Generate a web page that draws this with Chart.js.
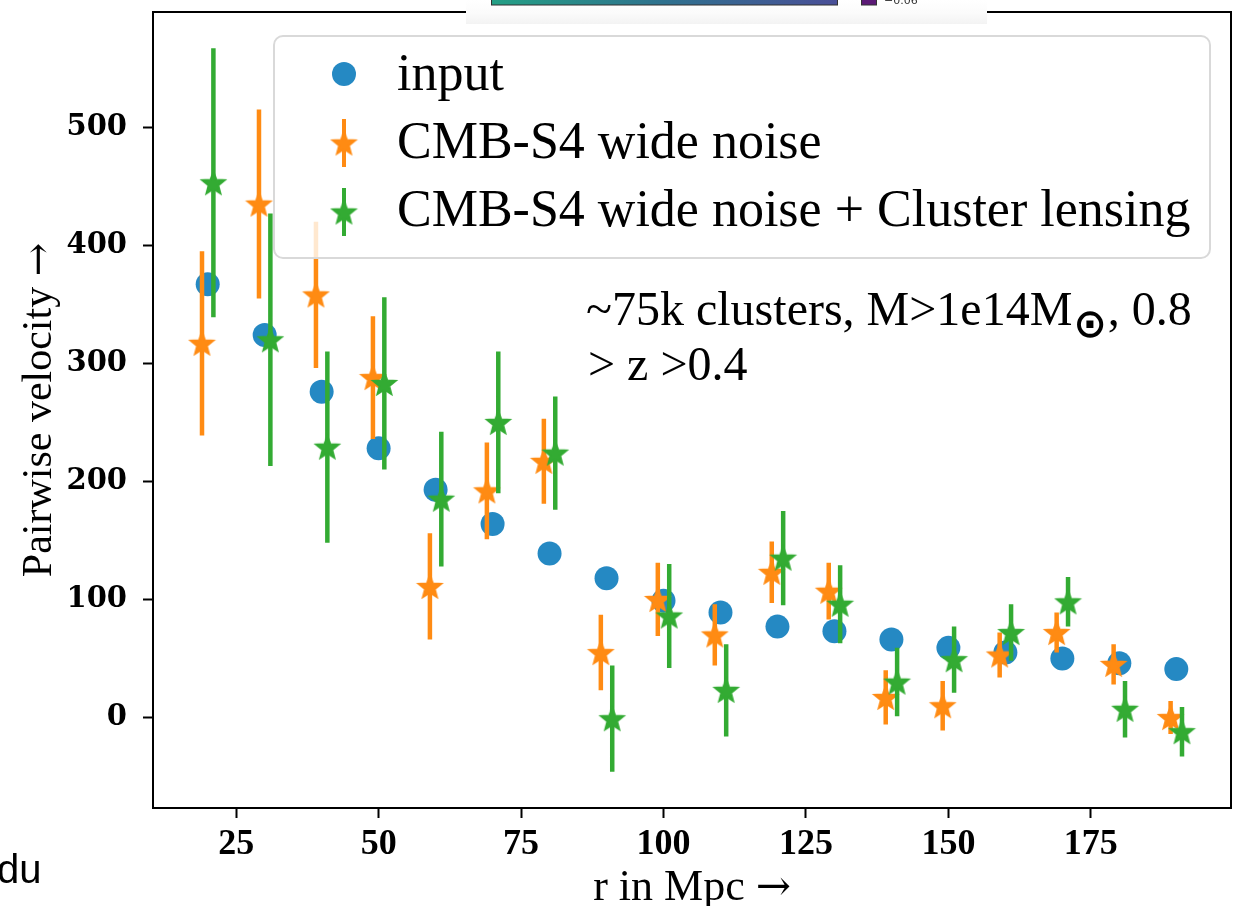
<!DOCTYPE html>
<html>
<head>
<meta charset="utf-8">
<script src="https://cdn.jsdelivr.net/npm/chart.js@4.4.0/dist/chart.umd.min.js"></script>
<style>
  html, body { margin: 0; padding: 0; background: #fff; }
  #wrap { position: relative; width: 1243px; height: 906px; }
</style>
</head>
<body>
<div id="wrap"><canvas id="pairwiseChart"></canvas></div>
<script>
// Separation bins in Mpc (the noisy series are nudged left/right by 1 Mpc)
const rInput   = [20, 30, 40, 50, 60, 70, 80, 90, 100, 110, 120, 130, 140, 150, 160, 170, 180, 190];
const rWide    = [19, 29, 39, 49, 59, 69, 79, 89, 99, 109, 119, 129, 139, 149, 159, 169, 179, 189];
const rLensing = [21, 31, 41, 51, 61, 71, 81, 91, 101, 111, 121, 131, 141, 151, 161, 171, 181, 191];

// Pairwise velocity per bin
const vInput   = [367, 324, 276, 228, 193, 164, 139, 118, 99, 89, 77, 73, 66, 59, 55, 50, 46, 41];
const vWide    = [317, 435, 358, 288, 111, 192, 217, 55, 100, 70, 123, 107, 17, 10, 53, 72, 45, 0];
const errWide  = [78, 80, 62, 52, 45, 41, 36, 32, 31, 26, 26, 24, 23, 21, 19, 17, 17, 14];
const vLensing = [453, 320, 229, 283, 185, 250, 224, -1, 86, 23, 135, 96, 30, 49, 72, 98, 7, -12];
const errLensing = [114, 107, 81, 73, 57, 60, 48, 45, 44, 39, 40, 33, 29, 28, 24, 21, 24, 21];

const xTicks = [25, 50, 75, 100, 125, 150, 175];
const yTicks = [0, 100, 200, 300, 400, 500];
const seriesNames = ['input', 'CMB-S4 wide noise', 'CMB-S4 wide noise + Cluster lensing'];
const xTitle = 'r in Mpc ';
const yTitle = 'Pairwise velocity ';

const BLUE = '#2589c3';
const ORANGE = '#ff8b13';
const GREEN = '#33ab33';

const SERIF = '"Liberation Serif", "Times New Roman", serif';
const ARROW_FONT = '"DejaVu Serif", serif';

// axis limits with a 5% margin around the data, like matplotlib does
function padded(lo, hi) {
    const m = (hi - lo) * 0.05;
    return [lo - m, hi + m];
}
const [xMin, xMax] = padded(Math.min(...rWide), Math.max(...rLensing));
const allLow = vWide.map((v, i) => v - errWide[i]).concat(vLensing.map((v, i) => v - errLensing[i]), vInput);
const allHigh = vWide.map((v, i) => v + errWide[i]).concat(vLensing.map((v, i) => v + errLensing[i]), vInput);
const [yMin, yMax] = padded(Math.min(...allLow), Math.max(...allHigh));

// filled five-point star marker
function starMarker(color, R) {
    const size = Math.ceil(R * 2 + 4);
    const c = document.createElement('canvas');
    c.width = size;
    c.height = size;
    const g = c.getContext('2d');
    const cx = size / 2, cy = size / 2 + R * 0.08;
    const r = R * 0.43;
    g.beginPath();
    for (let i = 0; i < 10; i++) {
        const rad = i % 2 ? r : R;
        const a = -Math.PI / 2 + i * Math.PI / 5;
        g.lineTo(cx + rad * Math.cos(a), cy + rad * Math.sin(a));
    }
    g.closePath();
    g.fillStyle = color;
    g.fill();
    g.lineJoin = 'miter';
    g.lineWidth = 1.5;
    g.strokeStyle = color;
    g.stroke();
    return c;
}

const orangeStar = starMarker(ORANGE, 12.5);
const greenStar = starMarker(GREEN, 12.5);

function points(xs, ys) {
    return xs.map((x, i) => ({ x: x, y: ys[i] }));
}

// vertical error bars, drawn just under each dataset's markers
const errorBars = {
    id: 'errorBars',
    beforeDatasetDraw(chart, args) {
        const ds = chart.data.datasets[args.index];
        if (!ds.errors) return;
        const { ctx, chartArea: a, scales: { x, y } } = chart;
        ctx.save();
        ctx.beginPath();
        ctx.rect(a.left, a.top, a.right - a.left, a.bottom - a.top);
        ctx.clip();
        ctx.beginPath();
        ds.data.forEach((p, i) => {
            const px = x.getPixelForValue(p.x);
            ctx.moveTo(px, y.getPixelForValue(p.y - ds.errors[i]));
            ctx.lineTo(px, y.getPixelForValue(p.y + ds.errors[i]));
        });
        ctx.lineWidth = 4.5;
        ctx.lineCap = 'butt';
        ctx.strokeStyle = ds.barColor;
        ctx.stroke();
        ctx.restore();
    }
};

// full box around the plot
const frame = {
    id: 'frame',
    beforeDatasetsDraw(chart) {
        const { ctx, chartArea: a } = chart;
        ctx.save();
        ctx.strokeStyle = '#000';
        ctx.lineWidth = 2;
        ctx.strokeRect(a.left, a.top, a.right - a.left, a.bottom - a.top);
        ctx.restore();
    }
};

function roundRect(ctx, x, y, w, h, r) {
    ctx.beginPath();
    ctx.moveTo(x + r, y);
    ctx.lineTo(x + w - r, y);
    ctx.arcTo(x + w, y, x + w, y + r, r);
    ctx.lineTo(x + w, y + h - r);
    ctx.arcTo(x + w, y + h, x + w - r, y + h, r);
    ctx.lineTo(x + r, y + h);
    ctx.arcTo(x, y + h, x, y + h - r, r);
    ctx.lineTo(x, y + r);
    ctx.arcTo(x, y, x + r, y, r);
    ctx.closePath();
}

// text runs in mixed fonts, centred on cx
function drawRuns(ctx, runs, cx, baseY) {
    let total = 0;
    runs.forEach(([text, font]) => { ctx.font = font; total += ctx.measureText(text).width; });
    let x = cx - total / 2;
    runs.forEach(([text, font]) => {
        ctx.font = font;
        ctx.fillText(text, x, baseY);
        x += ctx.measureText(text).width;
    });
}

// axis titles with a proper arrow glyph
const axisTitles = {
    id: 'axisTitles',
    afterDraw(chart) {
        const { ctx, chartArea: a } = chart;
        ctx.save();
        ctx.fillStyle = '#000';
        ctx.textBaseline = 'alphabetic';
        drawRuns(ctx, [[xTitle, '44px ' + SERIF], ['\u2192', '42px ' + ARROW_FONT]], (a.left + a.right) / 2, 900);
        ctx.translate(51, (a.top + a.bottom) / 2);
        ctx.rotate(-Math.PI / 2);
        drawRuns(ctx, [[yTitle, '42px ' + SERIF], ['\u2192', '40px ' + ARROW_FONT]], 0, 0);
        ctx.restore();
    }
};

// matplotlib-style legend box plus the sample annotation
const legendBox = {
    id: 'legendBox',
    afterDatasetsDraw(chart) {
        const { ctx, chartArea: a } = chart;
        const left = a.left + 121, top = a.top + 24, w = 936, h = 222;
        ctx.save();
        roundRect(ctx, left, top, w, h, 9);
        ctx.fillStyle = 'rgba(255,255,255,0.8)';
        ctx.fill();
        ctx.strokeStyle = '#d9d9d9';
        ctx.lineWidth = 2;
        ctx.stroke();

        chart.data.datasets.forEach((ds, i) => {
            const mx = left + 70;
            const my = top + 38 + i * 69;
            if (ds.errors) {
                ctx.beginPath();
                ctx.moveTo(mx, my - 24);
                ctx.lineTo(mx, my + 24);
                ctx.lineWidth = 4;
                ctx.strokeStyle = ds.barColor;
                ctx.stroke();
                ctx.drawImage(ds.pointStyle, mx - ds.pointStyle.width / 2, my - ds.pointStyle.height / 2);
            } else {
                ctx.beginPath();
                ctx.arc(mx, my, 12, 0, Math.PI * 2);
                ctx.fillStyle = ds.backgroundColor;
                ctx.fill();
            }
            ctx.fillStyle = '#000';
            ctx.font = '52px ' + SERIF;
            ctx.textBaseline = 'alphabetic';
            ctx.fillText(ds.label, left + 123, top + 54 + i * 68);
        });

        // annotation
        ctx.fillStyle = '#000';
        ctx.font = '48px ' + SERIF;
        let tx = 586;
        const base = 325;
        const head = '~75k clusters, M>1e14M';
        ctx.fillText(head, tx, base);
        tx += ctx.measureText(head).width;
        ctx.font = 'bold 40px "DejaVu Sans", sans-serif';
        ctx.fillText('\u2299', tx + 1, base + 12);
        tx += ctx.measureText('\u2299').width + 2;
        ctx.font = '48px ' + SERIF;
        ctx.fillText(', 0.8', tx, base);
        ctx.fillText('> z >0.4', 588, base + 55);
        ctx.restore();
    }
};

// clipped strip of a colorbar and the stray "du" at the page edge
const pageBits = {
    id: 'pageBits',
    afterDraw(chart) {
        const { ctx } = chart;
        ctx.save();
        const bg = ctx.createLinearGradient(0, 0, 0, 24);
        bg.addColorStop(0, '#ffffff');
        bg.addColorStop(0.55, '#fbfbfb');
        bg.addColorStop(1, '#f3f3f3');
        ctx.fillStyle = bg;
        ctx.fillRect(466, 0, 521, 24);

        const cb = ctx.createLinearGradient(491, 0, 838, 0);
        cb.addColorStop(0, '#24a085');
        cb.addColorStop(0.5, '#2f718e');
        cb.addColorStop(1, '#4a4f98');
        ctx.fillStyle = cb;
        ctx.fillRect(491, -2, 347, 7);
        ctx.strokeStyle = '#333';
        ctx.lineWidth = 1;
        ctx.strokeRect(491.5, -2, 346, 7);

        ctx.fillStyle = '#5b1a76';
        ctx.fillRect(861, -2, 16, 7);
        ctx.strokeRect(861.5, -2, 15, 7);

        ctx.fillStyle = '#333';
        ctx.font = '11px "DejaVu Sans", sans-serif';
        ctx.textBaseline = 'alphabetic';
        ctx.fillText('\u22120.06', 884, 4);

        ctx.fillStyle = '#000';
        ctx.font = '40px "Liberation Sans", Arial, sans-serif';
        ctx.fillText('du', -3, 883);
        ctx.restore();
    }
};

const ctx = document.getElementById('pairwiseChart').getContext('2d');
const pairwiseChart = new Chart(ctx, {
    type: 'scatter',
    data: {
        datasets: [
            {
                label: seriesNames[0],
                data: points(rInput, vInput),
                backgroundColor: BLUE,
                pointBackgroundColor: BLUE,
                pointBorderWidth: 0,
                pointRadius: 12,
                pointStyle: 'circle',
                order: 3
            },
            {
                label: seriesNames[1],
                data: points(rWide, vWide),
                errors: errWide,
                barColor: ORANGE,
                pointStyle: orangeStar,
                pointRadius: 11,
                order: 2
            },
            {
                label: seriesNames[2],
                data: points(rLensing, vLensing),
                errors: errLensing,
                barColor: GREEN,
                pointStyle: greenStar,
                pointRadius: 11,
                order: 1
            }
        ]
    },
    options: {
        responsive: true,
        maintainAspectRatio: false,
        devicePixelRatio: 1,
        animation: false,
        events: [],
        layout: { padding: { top: 9, right: 8, left: 0, bottom: 0 } },
        plugins: {
            legend: { display: false },
            tooltip: { enabled: false }
        },
        scales: {
            x: {
                type: 'linear',
                min: xMin,
                max: xMax,
                afterFit: s => { s.height = 98; s.paddingLeft = 0; s.paddingRight = 0; },
                afterBuildTicks: s => { s.ticks = xTicks.map(v => ({ value: v })); },
                grid: { drawOnChartArea: false, tickLength: 10, tickWidth: 2, tickColor: '#000' },
                border: { color: '#000', width: 2 },
                ticks: {
                    padding: 5,
                    color: '#000',
                    maxRotation: 0,
                    font: { family: SERIF, weight: 'bold', size: 36 }
                }
            },
            y: {
                type: 'linear',
                min: yMin,
                max: yMax,
                afterFit: s => { s.width = 153; s.paddingTop = 0; s.paddingBottom = 0; },
                afterBuildTicks: s => { s.ticks = yTicks.map(v => ({ value: v })); },
                grid: { drawOnChartArea: false, tickLength: 10, tickWidth: 2, tickColor: '#000' },
                border: { color: '#000', width: 2 },
                ticks: {
                    padding: 16,
                    color: '#000',
                    font: { family: '"DejaVu Serif", serif', weight: 'bold', size: 29 }
                }
            }
        }
    },
    plugins: [frame, errorBars, legendBox, axisTitles, pageBits]
});
</script>
</body>
</html>
